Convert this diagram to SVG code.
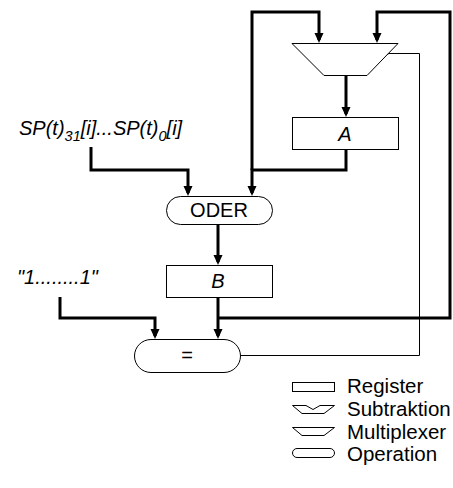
<svg xmlns="http://www.w3.org/2000/svg" width="453" height="488" viewBox="0 0 453 488">
<style>
text{font-family:"Liberation Sans",Arial,sans-serif;fill:#000}
.lbl{font-size:20px}
.it{font-style:italic}
.box{fill:#fff;stroke:#000;stroke-width:1}
.thick{fill:none;stroke:#000;stroke-width:3}
.thin{fill:none;stroke:#000;stroke-width:1}
.leg{font-size:20.5px}
</style>
<defs>
<marker id="ah" markerUnits="userSpaceOnUse" markerWidth="12" markerHeight="10" refX="7" refY="4.5" orient="auto">
<path d="M0,0 L10,4.5 L0,9 Z" fill="#000"/>
</marker>
<marker id="oa" markerUnits="userSpaceOnUse" markerWidth="10" markerHeight="10" refX="0" refY="5" orient="auto">
<path d="M8,1 L0,5 L8,9" fill="none" stroke="#000" stroke-width="1"/>
</marker>
</defs>
<g id="connectors">
<path class="thick" d="M346,149 V170 H252 V193" marker-end="url(#ah)"/>
<path class="thick" d="M252,170 V12 H319 V40" marker-end="url(#ah)"/>
<path class="thick" d="M346,75 V114" marker-end="url(#ah)"/>
<path class="thick" d="M91,147 V170 H188 V193" marker-end="url(#ah)"/>
<path class="thick" d="M218,224 V262" marker-end="url(#ah)"/>
<path class="thick" d="M218,297 V336" marker-end="url(#ah)"/>
<path class="thick" d="M218,318 H450 V12 H377 V40" marker-end="url(#ah)"/>
<path class="thick" d="M60,297 V318 H155 V336" marker-end="url(#ah)"/>
<path class="thin" d="M240,355.5 H419.5 V53.5 H389" marker-end="url(#oa)"/>
</g>
<g id="mux">
<polygon class="box" points="292,43.5 398,43.5 367,75.5 324,75.5"/>
</g>
<g id="regA">
<rect class="box" x="292.5" y="117.5" width="106" height="32"/>
<text class="lbl it" x="345" y="141" text-anchor="middle">A</text>
</g>
<g id="inSP">
<text class="lbl it" x="19" y="135" font-size="21">SP(t)<tspan font-size="14.5" dy="6">31</tspan><tspan dy="-6">[i]...SP(t)</tspan><tspan font-size="14.5" dy="6">0</tspan><tspan dy="-6">[i]</tspan></text>
</g>
<g id="oder">
<rect class="box" x="166.5" y="196.5" width="106" height="28" rx="14" ry="14"/>
<text class="lbl" x="219" y="217" text-anchor="middle" font-size="21">ODER</text>
</g>
<g id="regB">
<rect class="box" x="166.5" y="265.5" width="106" height="32"/>
<text class="lbl it" x="218" y="288" text-anchor="middle">B</text>
</g>
<g id="inOnes">
<text class="lbl it" x="17" y="284">"1........1"</text>
</g>
<g id="eq">
<rect class="box" x="134.5" y="339.5" width="106" height="33" rx="16.5" ry="16.5"/>
<text class="lbl" x="187" y="362" text-anchor="middle">=</text>
</g>
<g id="legend">
<rect class="box" x="292.5" y="382.5" width="42" height="9"/>
<text class="leg" x="347" y="393">Register</text>
<polygon class="box" points="292.5,405.5 306,405.5 313,409.5 320,405.5 334.5,405.5 324,413.5 302,413.5"/>
<text class="leg" x="347" y="416">Subtraktion</text>
<polygon class="box" points="292.5,427.5 334.5,427.5 324,435.5 302,435.5"/>
<text class="leg" x="347" y="439">Multiplexer</text>
<rect class="box" x="292.5" y="448.5" width="42" height="9" rx="4.5" ry="4.5"/>
<text class="leg" x="347" y="461">Operation</text>
</g>
</svg>
